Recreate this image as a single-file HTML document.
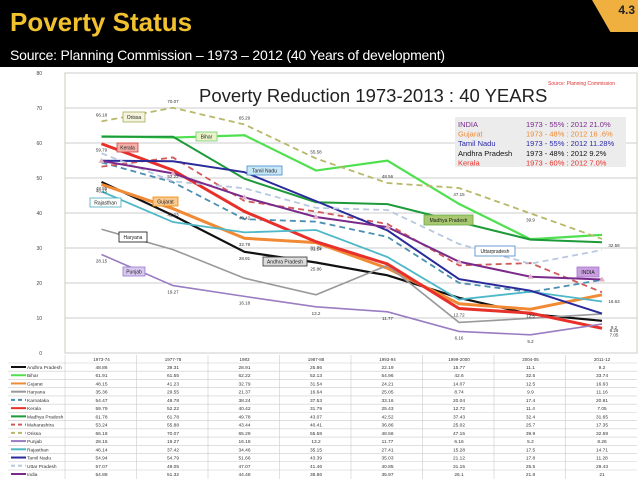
<!DOCTYPE html>
<html><head><meta charset="utf-8"><style>
body{margin:0;width:638px;height:479px;overflow:hidden;background:#000;font-family:"Liberation Sans",sans-serif}
#hdr{position:absolute;left:0;top:0;width:638px;height:67px;background:#000}
#title{position:absolute;left:10px;top:7px;font-size:26px;font-weight:bold;color:#f2c12e;letter-spacing:0}
#sub{position:absolute;left:10px;top:47px;font-size:14px;color:#fff;letter-spacing:-.2px}
#badge{position:absolute;right:0;top:0;width:46px;height:32px;background:#f0b040;clip-path:polygon(0 0,100% 0,100% 100%,40% 100%);}
#badgeT{position:absolute;right:3px;top:3px;font-size:12px;font-weight:bold;color:#222}
svg{position:absolute;left:0;top:0}
</style></head><body>
<div id="hdr">
<div id="title">Poverty Status</div>
<div id="sub">Source: Planning Commission – 1973 – 2012 (40 Years of development)</div>
<div id="badge"></div>
<div id="badgeT">4.3</div>
</div>
<svg id="chart" width="638" height="479"></svg>
<script>
const categories=["1973-74","1977-78","1983","1987-88","1993-94","1999-2000","2004-05","2011-12"];
const states=["Andhra Pradesh","Bihar","Gujarat","Haryana","Karnataka","Kerala","Madhya Pradesh","Maharashtra","Orissa","Punjab","Rajasthan","Tamil Nadu","Uttar Pradesh","India"];
const apVals=[48.86,39.31,28.91,25.86,22.19,15.77,11.1,9.2];
const biharVals=[61.91,61.55,62.22,52.13,54.96,42.6,32.5,33.74];
const gujaratVals=[48.15,41.23,32.79,31.54,24.21,14.07,12.5,16.63];
const haryanaVals=[35.36,29.55,21.37,16.64,25.05,8.74,9.9,11.16];
const karnatakaVals=[54.47,48.78,38.24,37.53,33.16,20.04,17.4,20.91];
const keralaVals=[59.79,52.22,40.42,31.79,25.43,12.72,11.4,7.05];
const mpVals=[61.78,61.78,49.78,43.07,42.52,37.43,32.4,31.65];
const maharashtraVals=[53.24,55.88,43.44,40.41,36.86,25.02,25.7,17.35];
const orissaVals=[66.18,70.07,65.29,55.58,48.56,47.15,39.9,32.59];
const punjabVals=[28.15,19.27,16.18,13.2,11.77,6.16,5.2,8.26];
const rajasthanVals=[46.14,37.42,34.46,35.15,27.41,15.28,17.5,14.71];
const tnVals=[54.94,54.79,51.66,43.39,35.03,21.12,17.8,11.28];
const upVals=[57.07,49.05,47.07,41.46,40.85,31.15,25.5,29.43];
const indiaVals=[54.88,51.32,44.48,38.86,35.97,26.10,21.80,21.00];
const yTicks=[0,10,20,30,40,50,60,70,80];

const series=[apVals,biharVals,gujaratVals,haryanaVals,karnatakaVals,keralaVals,mpVals,maharashtraVals,orissaVals,punjabVals,rajasthanVals,tnVals,upVals,indiaVals];
const styles=[["#111",2.2,""],["#4ee04e",2.2,""],["#f08a35",3,""],["#999",1.6,""],["#4a8fb0",1.8,"6,4"],["#e8302a",3,""],["#1d9a3a",2,""],["#d05a5a",1.8,"6,4"],["#b8b86a",1.8,"6,4"],["#9a7cc2",1.6,""],["#4fb8c8",1.8,""],["#2a2a9a",2,""],["#b8c8e0",1.8,"6,4"],["#7a2a8a",2,""]];
const svg=document.getElementById('chart');const NS="http://www.w3.org/2000/svg";
function mk(t,a,p){const e=document.createElementNS(NS,t);for(const k in a)e.setAttribute(k,a[k]);(p||svg).appendChild(e);return e;}
function xS(i){return 101.5+i*71.5;}
function yS(v){return 353-3.5*v;}
let r=mk('rect',{x:0,y:67,width:638,height:412,fill:'#fff'});


let pa=mk('rect',{x:65,y:73,width:572,height:280,fill:'#fff',stroke:'#c8d0b0','stroke-width':1});


yTicks.forEach(v=>{
 let g=mk('line',{x1:65,x2:637,y1:yS(v),y2:yS(v),stroke:'#ccc','stroke-width':1});
 
 
 let t=mk('text',{x:42,y:yS(v)+2,'font-size':5,fill:'#444','text-anchor':'end'});t.textContent=v;
 
 
});
let tt=mk('text',{x:199,y:102,'font-size':18.5,fill:'#222'});tt.textContent='Poverty Reduction 1973-2013 : 40 YEARS';


let src=mk('text',{x:548,y:85,'font-size':5,fill:'#d33'});src.textContent='Source: Planning Commission';


series.forEach((s,k)=>{
 const st=styles[k];
 let p=mk('polyline',{points:s.map((v,i)=>xS(i)+','+yS(v)).join(' '),fill:'none',stroke:st[0],'stroke-width':st[1],'stroke-dasharray':st[2]});
 
 
});
indiaVals.forEach((v,i)=>{
 let m=mk('path',{d:`M${xS(i)},${yS(v)-3}l3,5h-6z`,fill:'#e0b0c8'});
 
 
});
const valLabelVals=[[8,1,70.07],[8,0,66.18],[8,2,65.29],[8,3,55.58],[8,4,48.56],[8,5,47.15],[8,6,39.9],[8,7,32.59],[9,0,28.15],[9,1,19.27],[9,2,16.18],[9,3,13.2],[9,4,11.77],[9,5,6.16],[9,6,5.2],[9,7,8.26],[0,0,48.86],[0,2,28.91],[0,3,25.86],[0,7,9.2],[2,0,48.15],[2,1,41.23],[2,2,32.79],[2,3,31.54],[2,6,12.5],[2,7,16.63],[5,0,59.79],[5,1,52.22],[5,2,40.42],[5,3,31.79],[5,5,12.72],[5,7,7.05]];
valLabelVals.forEach(a=>{
 let t=mk('text',{x:xS(a[1])+(a[1]==7?12:0),y:yS(a[2])+(a[0]==8&&a[1]<5?-5:8),'font-size':4.5,fill:'#333','text-anchor':'middle'});t.textContent=a[2];
 
 
});
const callouts=[["Orissa",123,112,22,10,"#f4f4dc","#a8a860"],["Bihar",196,132,21,9,"#e8f4c8","#7c7"],["Kerala",117,143,21,9,"#f4b0a8","#c44"],["Tamil Nadu",247,166,35,9,"#c8e8f8","#48c"],["Rajasthan",90,198,31,9,"#fff","#4ab"],["Gujarat",153,197,25,9,"#f8c890","#e80"],["Haryana",119,232,28,10,"#fff","#111"],["Punjab",123,267,22,9,"#d8c8f0","#97c"],["Andhra Pradesh",263,257,44,9,"#ddd","#333"],["Madhya Pradesh",424,215,49,10,"#a8c870","#6a4"],["Uttarpradesh",475,246,40,10,"#fff","#48c"],["INDIA",577,267,22,10,"#c8a0e0","#a7c"]];
callouts.forEach(c=>{
 let b=mk('rect',{x:c[1],y:c[2],width:c[3],height:c[4],fill:c[5],stroke:c[6],'stroke-width':0.8});
 
 
 let t=mk('text',{x:c[1]+c[3]/2,y:c[2]+c[4]/2+2,'font-size':5,fill:'#222','text-anchor':'middle'});t.textContent=c[0];
 
 
});
let ib=mk('rect',{x:455,y:117,width:171,height:50,fill:'#ececec'});


const infoRows=[["INDIA","1973 - 55% : 2012  21.0%","#7a2a8a"],["Gujarat","1973 - 48% : 2012  16 .6%","#f08a35"],["Tamil Nadu","1973 - 55% : 2012  11.28%","#2a2aaa"],["Andhra Pradesh","1973 - 48% : 2012   9.2%","#111"],["Kerala","1973 - 60% : 2012   7.0%","#e8302a"]];
infoRows.forEach((rw,i)=>{
 let a=mk('text',{x:458,y:127+i*9.6,'font-size':7.5,fill:rw[2]});a.textContent=rw[0];
 
 
 let b=mk('text',{x:526,y:127+i*9.6,'font-size':7.5,fill:rw[2],'xml:space':'preserve'});b.textContent=rw[1];
 
 
});
const ty=355,rh=8.23;
let tb=mk('rect',{x:0,y:ty,width:638,height:124,fill:'#fff'});


categories.forEach((c,i)=>{
 let t=mk('text',{x:xS(i),y:ty+6,'font-size':4.5,fill:'#333','text-anchor':'middle'});t.textContent=c;
 
 
 let l=mk('line',{x1:65+i*71.5,x2:65+i*71.5,y1:ty,y2:479,stroke:'#ccc','stroke-width':0.6});
 
 
});
states.forEach((s,k)=>{
 const y0=ty+8+k*rh;
 let l=mk('line',{x1:8,x2:637,y1:y0,y2:y0,stroke:'#ccc','stroke-width':0.6});
 
 
 let sw=mk('line',{x1:11,x2:26,y1:y0+4,y2:y0+4,stroke:styles[k][0],'stroke-width':2,'stroke-dasharray':styles[k][2]?'4,3':''});
 
 
 let t=mk('text',{x:27,y:y0+6,'font-size':4.8,fill:'#333'});t.textContent=s;
 
 
 series[k].forEach((v,i)=>{
  let c=mk('text',{x:xS(i),y:y0+6,'font-size':4.8,fill:'#333','text-anchor':'middle'});c.textContent=v;
  
  
 });
});
</script>
</body></html>
